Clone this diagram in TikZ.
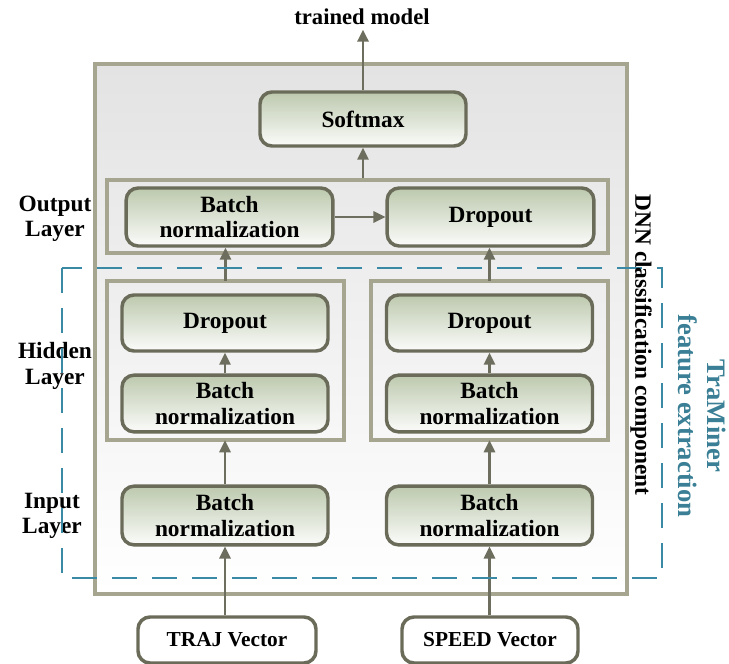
\documentclass[tikz,border=0pt]{standalone}
\usepackage{fontspec}
\setmainfont{Liberation Serif}
\usetikzlibrary{arrows.meta,fit}
\definecolor{sage}{HTML}{BDC9AE}
\definecolor{nodeline}{HTML}{6B6B5A}
\definecolor{boxline}{HTML}{A5A590}
\definecolor{dashc}{HTML}{3A8AA5}
\definecolor{tealtext}{HTML}{3A7F95}
\definecolor{arrowc}{HTML}{6E6E5E}
\begin{document}
\begin{tikzpicture}[x=0.75pt,y=-0.75pt,
  txt/.style={font=\fontsize{17.5}{19}\selectfont\bfseries, align=center},
  layerbox/.style={txt, draw=nodeline, line width=2.6pt, rounded corners=9pt,
    top color=sage, middle color=sage, bottom color=sage!6!white, inner sep=0pt},
  inbox/.style={txt, font=\fontsize{16}{16}\selectfont\bfseries, draw=nodeline, line width=2.6pt,
    rounded corners=9pt, fill=white, inner sep=0pt, minimum height=34.5pt},
  groupbox/.style={draw=boxline, line width=2.6pt, inner sep=0pt},
  arr/.style={draw=arrowc, line width=1.6pt, -{Triangle[length=9pt,width=8.5pt]}},
  dashbox/.style={draw=dashc, line width=2.2pt, dash pattern=on 19pt off 11pt}
]
\useasboundingbox (0,0) rectangle (729,664);
% outer DNN box
\draw[draw=boxline, line width=2.6pt, top color=black!11, bottom color=white] (95,64) rectangle (627,594);

% layer labels
\node[txt] (lout) at (55,219) {Output\\Layer};
\node[txt] (lhid) at (55,366) {Hidden\\Layer};
\node[txt] (lin)  at (52,516) {Input\\Layer};

% group boxes
\coordinate (ob1) at (107,180); \coordinate (ob2) at (608,253);
\node[groupbox, fit=(ob1)(ob2)] (outbox) {};
\coordinate (h1a) at (107,281); \coordinate (h1b) at (344,440);
\draw[groupbox, top color=black!7, bottom color=black!3] (h1a) rectangle (h1b);
\node[fit=(h1a)(h1b), inner sep=0pt] (hid1) {};
\coordinate (h2a) at (371,281); \coordinate (h2b) at (608,440);
\draw[groupbox, top color=black!7, bottom color=black!3] (h2a) rectangle (h2b);
\node[fit=(h2a)(h2b), inner sep=0pt] (hid2) {};

% nodes
\node[txt] (trained) at (362,17) {\fontsize{17}{17}\selectfont trained model};
\node[layerbox, minimum width=154.5pt, minimum height=40.5pt] (soft) at (363,119) {Softmax};
\node[layerbox, minimum width=155pt, minimum height=43.5pt] (obn) at (229.5,217) {Batch\\normalization};
\node[layerbox, minimum width=155pt, minimum height=43.5pt] (odo) at (490.5,217) {Dropout};
\node[layerbox, minimum width=154.5pt, minimum height=42pt] (hdo1) at (225,323) {Dropout};
\node[layerbox, minimum width=154.5pt, minimum height=42.5pt] (hbn1) at (225,403.5) {Batch\\normalization};
\node[layerbox, minimum width=154.5pt, minimum height=42pt] (hdo2) at (489.5,323) {Dropout};
\node[layerbox, minimum width=154.5pt, minimum height=42.5pt] (hbn2) at (489.5,403.5) {Batch\\normalization};
\node[layerbox, minimum width=154.5pt, minimum height=44pt] (ibn1) at (225,515.5) {Batch\\normalization};
\node[layerbox, minimum width=154.5pt, minimum height=44pt] (ibn2) at (489.5,515.5) {Batch\\normalization};
\node[inbox, minimum width=133.5pt] (traj) at (227,640) {TRAJ Vector};
\node[inbox, minimum width=132pt] (speed) at (490,640) {SPEED Vector};

% arrows
\draw[arr] (soft.north) -- (soft.north |- trained.south);
\draw[arr] (soft.south |- outbox.north) -- (soft.south);
\draw[arr] (obn.east) -- (odo.west);
\draw[arr] (hid1.north) -- (hid1.north |- obn.south);
\draw[arr] (hid2.north) -- (hid2.north |- odo.south);
\draw[arr] (hbn1.north) -- (hdo1.south);
\draw[arr] (hbn2.north) -- (hdo2.south);
\draw[arr] (ibn1.north) -- (hid1.south -| ibn1.north);
\draw[arr] (ibn2.north) -- (hid2.south -| ibn2.north);
\draw[arr] (traj.north -| ibn1.south) -- (ibn1.south);
\draw[arr] (speed.north -| ibn2.south) -- (ibn2.south);

% dashed feature extraction region
\coordinate (d1) at (62,268); \coordinate (d2) at (662,578);
\draw[dashbox] (d1) rectangle (d2);

% side texts
\node[txt, rotate=-90] (dnn) at (641,345) {DNN classification component};
\node[align=center, rotate=-90, text=tealtext, font=\fontsize{20}{22}\selectfont\bfseries] (tram) at (702,416) {TraMiner\\feature extraction};
\end{tikzpicture}
\end{document}
